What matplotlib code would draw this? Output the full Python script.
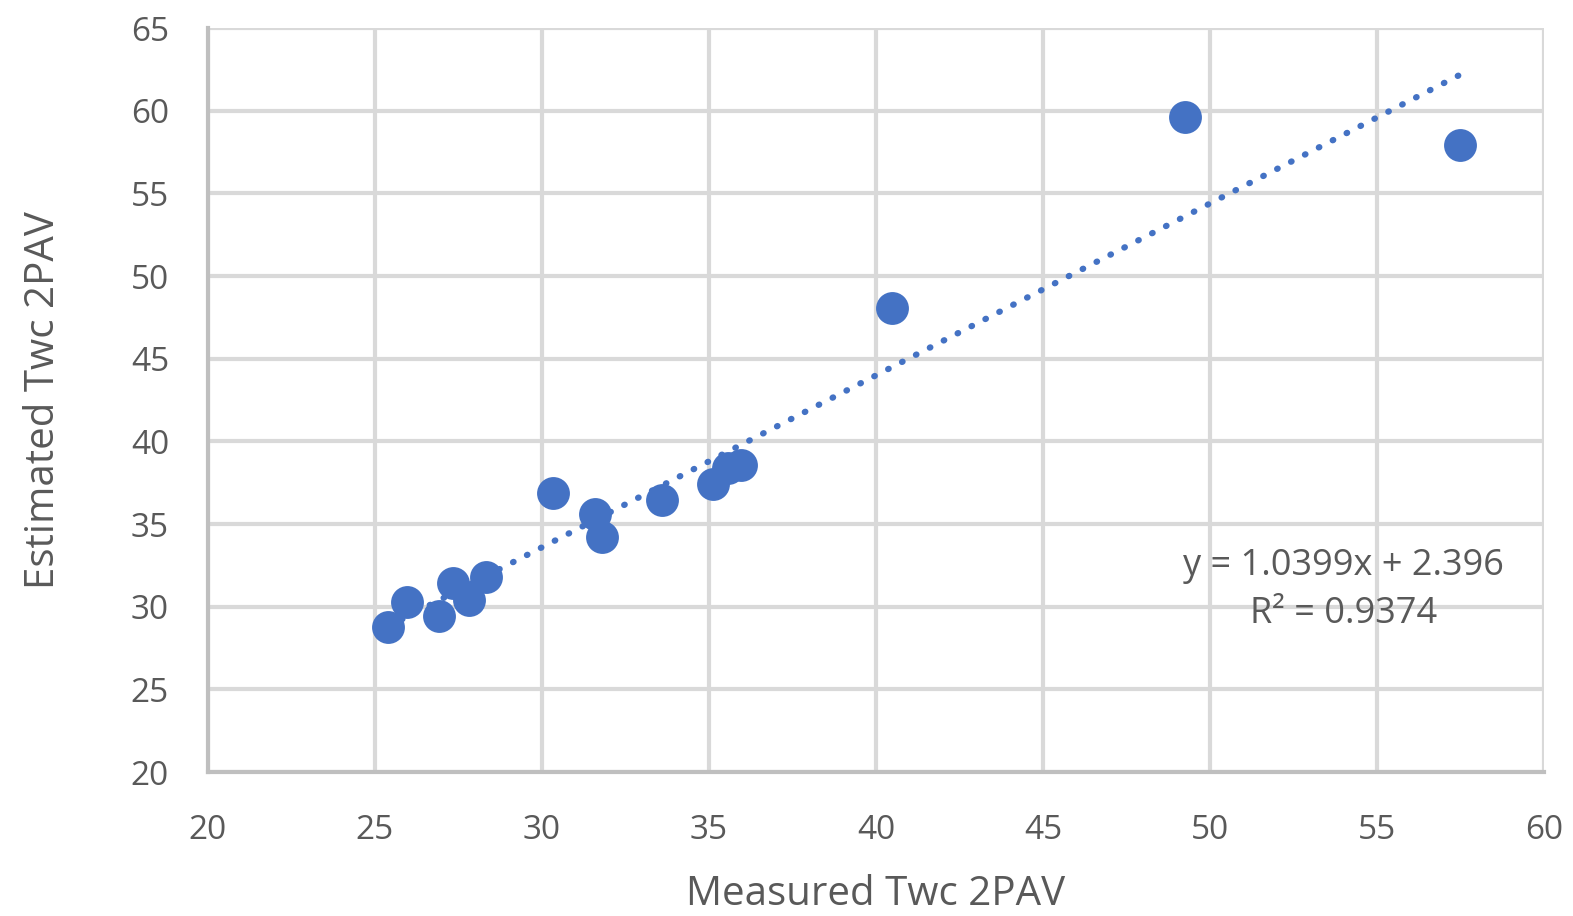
import numpy as np
import matplotlib
matplotlib.use("Agg")
import matplotlib.pyplot as plt

# Data
measured = [25.39, 25.96, 26.92, 27.34, 27.81, 28.32, 30.33, 31.59, 31.80,
            33.59, 35.12, 35.57, 35.96, 40.48, 49.25, 57.49]
estimated = [28.77, 30.28, 29.44, 31.43, 30.40, 31.80, 36.88, 35.61, 34.22,
             36.45, 37.42, 38.39, 38.57, 48.07, 59.62, 57.93]
slope = 1.0399
intercept = 2.396
r2 = 0.9374
x_ticks = [20, 25, 30, 35, 40, 45, 50, 55, 60]
y_ticks = [20, 25, 30, 35, 40, 45, 50, 55, 60, 65]

blue = "#4472C4"
text_col = "#595959"
plt.rcParams['font.family'] = ['Open Sans', 'DejaVu Sans']

fig = plt.figure(figsize=(15.73, 9.16), dpi=100)
ax = fig.add_axes([0.1322, 0.1572, 0.8494, 0.8122])

ax.scatter(measured, estimated, s=560, color=blue, zorder=3, linewidths=0)

# linear trendline across the data range
xt = np.array([min(measured), max(measured)])
ax.plot(xt, slope * xt + intercept, color=blue, linestyle=(0, (0.1, 2.4)),
        linewidth=4.5, dash_capstyle='round', zorder=2)

ax.set_xlim(20, 60)
ax.set_ylim(20, 65)
ax.set_xticks(x_ticks)
ax.set_yticks(y_ticks)
ax.grid(True, color="#d9d9d9", linewidth=3, zorder=0)
ax.set_axisbelow(True)
for side in ['top', 'right']:
    ax.spines[side].set_visible(False)
for side in ['left', 'bottom']:
    ax.spines[side].set_color("#bfbfbf")
    ax.spines[side].set_linewidth(3)
ax.tick_params(length=0, labelsize=24, labelcolor=text_col)
ax.tick_params(axis='y', pad=28)
ax.tick_params(axis='x', pad=30)

ax.set_xlabel("Measured Twc 2PAV", fontsize=29, color=text_col, labelpad=20)
ax.set_ylabel("Estimated Twc 2PAV", fontsize=29, color=text_col, labelpad=48)

ax.text(54.0, 31.0, f"y = {slope}x + {intercept}\nR² = {r2}",
        ha='center', va='center', fontsize=26, color=text_col,
        linespacing=1.45, zorder=4)

fig.savefig("out.png", dpi=100)
